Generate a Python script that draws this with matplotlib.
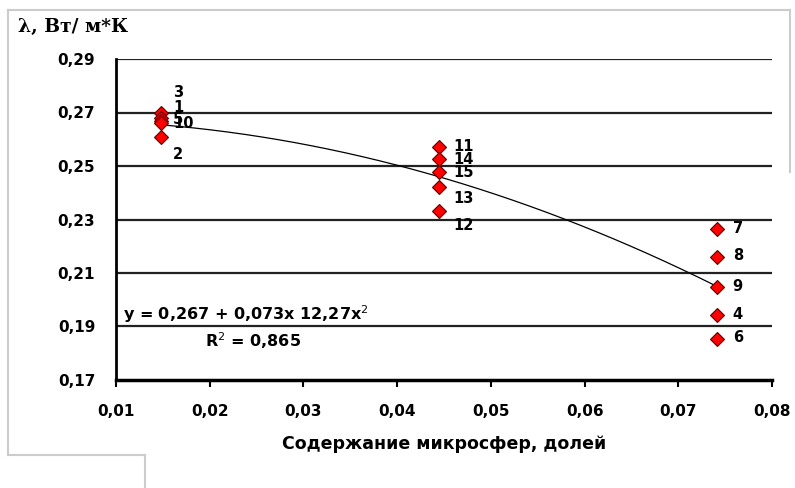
import numpy as np
import matplotlib.pyplot as plt
from matplotlib.lines import Line2D

# data
x_pos = [0.0148, 0.0445, 0.0741]
labels_left = ['3', '1', '5', '10', '2']
lam_left = [0.2698, 0.2680, 0.2668, 0.2661, 0.2608]
labels_mid = ['11', '14', '15', '13', '12']
lam_mid = [0.2571, 0.2526, 0.2478, 0.2422, 0.2332]
labels_right = ['7', '8', '9', '4', '6']
lam_right = [0.2264, 0.2160, 0.2048, 0.1943, 0.1853]

# trend: y = 0,267 + 0,073x - 12,27x^2
coef = [0.267, 0.073, -12.27]

# label shifts in pixels (dx, dy), same order as the points
shift_left = [(12, 21), (12, 10), (12, 2), (12, -1), (12, -17)]
shift_mid = [(14, 1), (14, 0), (14, -1), (14, -12), (14, -15)]
shift_right = [(16, 1), (16, 1), (16, 0), (16, 0), (16, 2)]

fig = plt.figure(figsize=(7.95, 4.88), dpi=100)
ax = fig.add_axes([116 / 795, 1 - 380 / 488, (772 - 116) / 795, (380 - 59) / 488])

# grid lines first
for yv in np.arange(0.19, 0.2901, 0.02):
    ax.axhline(yv, color='#222222', lw=1.6, zorder=1)

# trend curve
xs = np.linspace(x_pos[0], x_pos[2], 200)
ys = coef[0] + coef[1] * xs + coef[2] * xs ** 2
ax.plot(xs, ys, color='black', lw=0.9, zorder=2)

groups = [(x_pos[0], lam_left, labels_left, shift_left),
          (x_pos[1], lam_mid, labels_mid, shift_mid),
          (x_pos[2], lam_right, labels_right, shift_right)]
for xv, vals, labs, shifts in groups:
    ax.plot([xv] * len(vals), vals, 'D', color='#ff0000', mec='#600000',
            mew=0.8, ms=7, zorder=3, linestyle='none')
    for v, lab, (dx, dy) in zip(vals, labs, shifts):
        ax.annotate(lab, (xv, v), xytext=(dx, dy), textcoords='offset pixels',
                    ha='left', va='center', fontsize=10.5, fontweight='bold',
                    zorder=4)

ax.set_xlim(0.01, 0.08)
ax.set_ylim(0.17, 0.29)
ax.set_xticks(np.arange(0.01, 0.0801, 0.01))
ax.set_yticks(np.arange(0.17, 0.2901, 0.02))
ax.set_xticklabels([('%.2f' % v).replace('.', ',') for v in ax.get_xticks()])
ax.set_yticklabels([('%.2f' % v).replace('.', ',') for v in ax.get_yticks()])
for lab in ax.get_xticklabels() + ax.get_yticklabels():
    lab.set_fontweight('bold')
    lab.set_fontsize(11)
ax.tick_params(axis='x', direction='out', length=5, width=1.5, pad=12)
ax.tick_params(axis='y', length=0, pad=15)

ax.spines['top'].set_visible(False)
ax.spines['right'].set_visible(False)
ax.spines['left'].set_linewidth(2)
ax.spines['bottom'].set_linewidth(2.5)
ax.spines['bottom'].set_zorder(5)
ax.patch.set_alpha(0)

ax.set_xlabel('Содержание микросфер, долей', fontsize=12.5, fontweight='bold',
              labelpad=12)

fig.text(18 / 795, 1 - 27 / 488, 'λ, Вт/ м*К', family='DejaVu Serif',
         fontsize=13.5, fontweight='bold', ha='left', va='center')

ax.text(123 / 795, 1 - 314 / 488, 'y = 0,267 + 0,073x 12,27x$^2$',
        transform=fig.transFigure, fontsize=11.5, fontweight='bold',
        ha='left', va='center')
ax.text(205 / 795, 1 - 341 / 488, 'R$^2$ = 0,865',
        transform=fig.transFigure, fontsize=11.5, fontweight='bold',
        ha='left', va='center')

# grey frame around the picture
gray = '#cccccc'
W, H = 795, 488
frame = [([8, 790], [10, 10]), ([790, 790], [10, 172]), ([8, 8], [10, 455]),
         ([8, 145], [455, 455]), ([145, 145], [455, 488])]
for xx, yy in frame:
    fig.add_artist(Line2D([v / W for v in xx], [1 - v / H for v in yy],
                          color=gray, lw=1.5))

fig.savefig('out.png', dpi=100)
